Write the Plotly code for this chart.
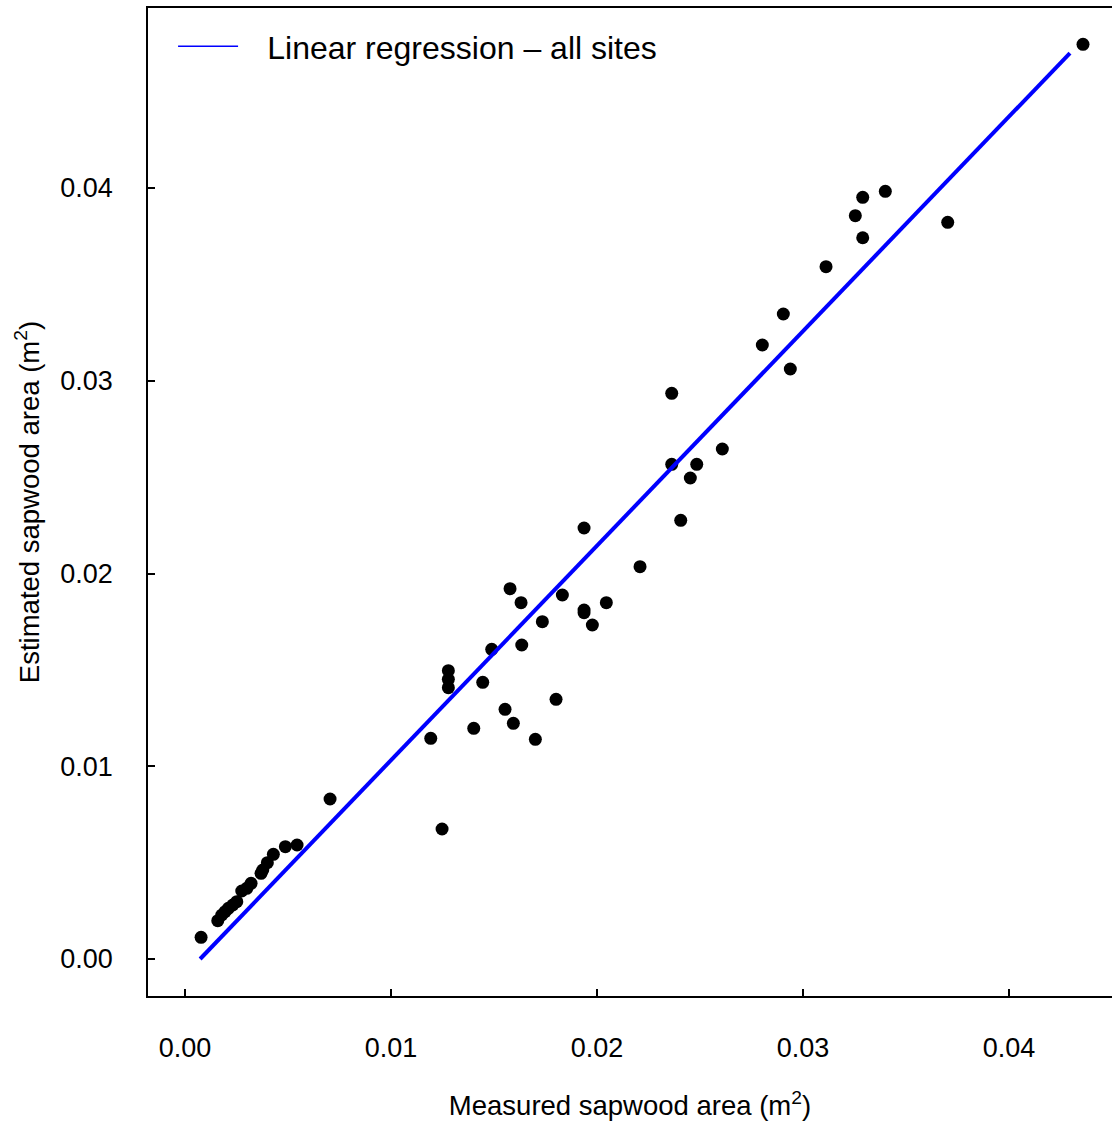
import plotly.graph_objects as go

# Measured (x) vs estimated (y) sapwood area, m^2
measured = [0.000777, 0.001587, 0.001782, 0.001942, 0.002102, 0.002316, 0.002510,
            0.002752, 0.002995, 0.003204, 0.003689, 0.003772, 0.003995, 0.004286,
            0.004869, 0.005437, 0.007039, 0.011927, 0.012476, 0.012782, 0.012782,
            0.012782, 0.014015, 0.014451, 0.014888, 0.015534, 0.015777, 0.015937,
            0.016311, 0.016345, 0.017005, 0.017345, 0.018010, 0.018316, 0.019369,
            0.019369, 0.019369, 0.019772, 0.020451, 0.022087, 0.023626, 0.023626,
            0.024063, 0.024529, 0.024840, 0.026083, 0.028024, 0.029044, 0.029383,
            0.031117, 0.032539, 0.032898, 0.032898, 0.033995, 0.037024, 0.043592]
estimated = [0.001126, 0.001987, 0.002283, 0.002454, 0.002630, 0.002802, 0.002973,
             0.003528, 0.003668, 0.003927, 0.004446, 0.004617, 0.004996, 0.005432,
             0.005826, 0.005914, 0.008301, 0.011450, 0.006744, 0.014957, 0.014511,
             0.014075, 0.011969, 0.014355, 0.016067, 0.012955, 0.019211, 0.012228,
             0.018485, 0.016291, 0.011398, 0.017499, 0.013473, 0.018885, 0.022361,
             0.018106, 0.017966, 0.017328, 0.018485, 0.020353, 0.029349, 0.025665,
             0.022760, 0.024955, 0.025665, 0.026459, 0.031855, 0.033463, 0.030610,
             0.035917, 0.038563, 0.039518, 0.037421, 0.039829, 0.038220, 0.047455]

# Regression line endpoints
reg_x = [0.00073, 0.04296]
reg_y = [0.0, 0.0470]

tick_vals = [0.00, 0.01, 0.02, 0.03, 0.04]
tick_text = ["0.00", "0.01", "0.02", "0.03", "0.04"]

FONT = "Liberation Sans, Arial, Helvetica, sans-serif"

fig = go.Figure()
fig.add_trace(go.Scatter(x=measured, y=estimated, mode="markers",
                         marker=dict(color="black", size=13),
                         showlegend=False, cliponaxis=False))
fig.add_trace(go.Scatter(x=reg_x, y=reg_y, mode="lines",
                         line=dict(color="#0000ff", width=4),
                         showlegend=False))
# legend entry (thin line as in reference)
fig.add_trace(go.Scatter(x=[None], y=[None], mode="lines",
                         line=dict(color="#0000ff", width=1.5),
                         name="\u00a0\u00a0\u2009Linear regression \u2013 all sites"))

axis_common = dict(showgrid=False, zeroline=False, showline=True,
                   linecolor="black", linewidth=1.5,
                   ticks="inside", ticklen=7, tickwidth=1.5, tickcolor="black",
                   tickfont=dict(family=FONT, size=27, color="black"),
                   tickvals=tick_vals, ticktext=tick_text)

fig.update_layout(
    width=1112, height=1124,
    margin=dict(l=148, r=0, t=8, b=128),
    plot_bgcolor="white", paper_bgcolor="white",
    font=dict(family=FONT, color="black"),
    xaxis=dict(range=[-0.0018, 0.0450], mirror=True,
               ticklabelstandoff=27,
               title=dict(text="Measured sapwood area (m<sup>2</sup>)",
                          font=dict(family=FONT, size=27.5, color="black"),
                          standoff=34),
               **axis_common),
    yaxis=dict(range=[-0.00192, 0.04934], mirror=False,
               ticklabelstandoff=28, automargin=True,
               title=dict(text="Estimated sapwood area (m<sup>2</sup>)",
                          font=dict(family=FONT, size=27.5, color="black"),
                          standoff=13),
               **axis_common),
    legend=dict(x=0.026, y=0.961, xanchor="left", yanchor="middle",
                bgcolor="rgba(0,0,0,0)", itemwidth=60,
                font=dict(family=FONT, size=32, color="black")),
)

fig.write_html("out.html",
               config={"displayModeBar": False},
               post_script="document.body.style.margin='0';"
                           "document.body.style.overflow='hidden';")
